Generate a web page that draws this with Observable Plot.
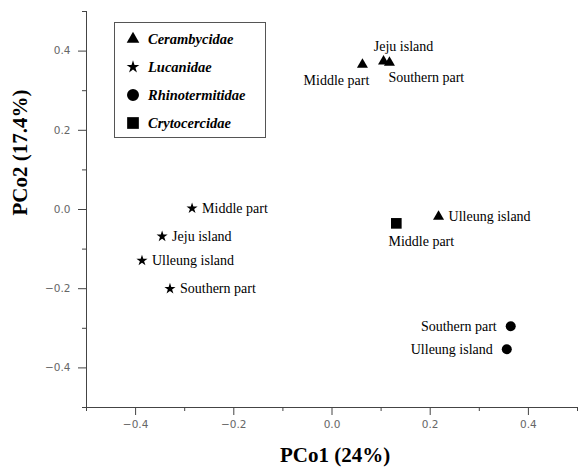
<!DOCTYPE html>
<html><head><meta charset="utf-8">
<script src="https://cdn.jsdelivr.net/npm/d3@7"></script>
<script src="https://cdn.jsdelivr.net/npm/@observablehq/plot@0.6"></script>
<style>
body{margin:0;background:#fff}
#wrap{position:relative;width:578px;height:470px}
#legend{position:absolute;left:114px;top:22px}
</style>
</head><body><div id="wrap"></div>
<script>
// ---- data ----
const families = ["Cerambycidae", "Lucanidae", "Rhinotermitidae", "Crytocercidae"];
const familyOf = ["Cerambycidae","Cerambycidae","Cerambycidae","Cerambycidae",
                  "Lucanidae","Lucanidae","Lucanidae","Lucanidae",
                  "Rhinotermitidae","Rhinotermitidae","Crytocercidae"];
const sites = ["Middle part","Jeju island","Southern part","Ulleung island",
               "Middle part","Jeju island","Ulleung island","Southern part",
               "Southern part","Ulleung island","Middle part"];
const pco1 = [0.062, 0.105, 0.117, 0.217, -0.285, -0.346, -0.387, -0.330, 0.364, 0.356, 0.131];
const pco2 = [0.366, 0.374, 0.371, -0.018, 0.003, -0.068, -0.129, -0.200, -0.295, -0.353, -0.035];
const majorTicks = [-0.4, -0.2, 0, 0.2, 0.4];
const minorTicks = [-0.5, -0.3, -0.1, 0.1, 0.3, 0.5];
const xDomain = [-0.5, 0.5];
const yDomain = [-0.5, 0.5];
const xTitle = "PCo1 (24%)";
const yTitle = "PCo2 (17.4%)";

const data = pco1.map((x, i) => ({x, y: pco2[i], family: familyOf[i], site: sites[i]}));

// ---- styles ----
const symbolOf = {Cerambycidae: "triangle", Lucanidae: "star", Rhinotermitidae: "circle", Crytocercidae: "square"};
const rOf = {Cerambycidae: 4.1, Lucanidae: 3.5, Rhinotermitidae: 5, Crytocercidae: 6.0};
const placement = {
  "Cerambycidae|Middle part": {textAnchor: "middle", dx: -26, dy: 16},
  "Cerambycidae|Jeju island": {textAnchor: "middle", dx: 20, dy: -15},
  "Cerambycidae|Southern part": {textAnchor: "start", dx: -1, dy: 15},
  "Cerambycidae|Ulleung island": {textAnchor: "start", dx: 10, dy: 0},
  "Lucanidae": {textAnchor: "start", dx: 10, dy: 0},
  "Rhinotermitidae": {textAnchor: "end", dx: -14, dy: 0},
  "Crytocercidae|Middle part": {textAnchor: "middle", dx: 25, dy: 18}
};
const placeOf = d => placement[d.family + "|" + d.site] ? d.family + "|" + d.site : d.family;

const labelFont = {fontFamily: "Liberation Serif", fontSize: 14, fill: "black"};

const marks = [
  Plot.ruleY([yDomain[0]], {stroke: "#444"}),
  Plot.ruleX([xDomain[0]], {stroke: "#444"}),
  Plot.axisX({ticks: majorTicks, tickSize: 8, tickPadding: 5, tickFormat: d3.format(".1f"),
              stroke: "#444", fill: "#666", fontSize: 10.5, fontFamily: "DejaVu Sans", label: null}),
  Plot.axisX({ticks: minorTicks, tickSize: 4, tickFormat: () => "", stroke: "#444", label: null}),
  Plot.axisY({ticks: majorTicks, tickSize: 8, tickPadding: 8, tickFormat: d3.format(".1f"),
              stroke: "#444", fill: "#666", fontSize: 10.5, fontFamily: "DejaVu Sans", label: null}),
  Plot.axisY({ticks: minorTicks, tickSize: 4, tickFormat: () => "", stroke: "#444", label: null}),
  ...families.map(f => Plot.dot(data.filter(d => d.family === f),
      {x: "x", y: "y", symbol: symbolOf[f], r: rOf[f], fill: "black", stroke: "none"})),
  ...Object.keys(placement).map(k => Plot.text(data.filter(d => placeOf(d) === k),
      {x: "x", y: "y", text: "site", ...placement[k], ...labelFont})),
  Plot.text([xTitle], {frameAnchor: "bottom", text: d => d, dx: 3, dy: 54,
      fontFamily: "Liberation Serif", fontWeight: "bold", fontSize: 21, fill: "black"}),
  Plot.text([yTitle], {frameAnchor: "left", text: d => d, rotate: -90, dx: -66, dy: 6,
      fontFamily: "Liberation Serif", fontWeight: "bold", fontSize: 21, fill: "black"})
];

const chart = Plot.plot({
  width: 578, height: 470,
  marginLeft: 86, marginRight: 1, marginTop: 11, marginBottom: 63,
  x: {domain: xDomain, label: null},
  y: {domain: yDomain, label: null},
  style: {background: "white", color: "black"},
  marks
});
const wrap = document.getElementById("wrap");
wrap.appendChild(chart);

// ---- legend ----
const d3Sym = {Cerambycidae: [d3.symbolTriangle, 69], Lucanidae: [d3.symbolStar, 50],
               Rhinotermitidae: [d3.symbolCircle, 113], Crytocercidae: [d3.symbolSquare, 137]};
const lg = d3.create("svg").attr("id", "legend").attr("width", 152).attr("height", 116);
lg.append("rect").attr("x", 0.5).attr("y", 0.5).attr("width", 151).attr("height", 115)
  .attr("fill", "white").attr("stroke", "#555");
const item = lg.selectAll("g").data(families).join("g")
  .attr("transform", (d, i) => `translate(19,${17 + 28 * i})`);
item.append("path").attr("d", d => d3.symbol(d3Sym[d][0], d3Sym[d][1])()).attr("fill", "black");
item.append("text").attr("x", 15).attr("dy", "0.35em").text(d => d)
  .attr("font-family", "Liberation Serif").attr("font-size", 14.5)
  .attr("font-weight", "bold").attr("font-style", "italic");
wrap.appendChild(lg.node());
</script>
</body></html>
